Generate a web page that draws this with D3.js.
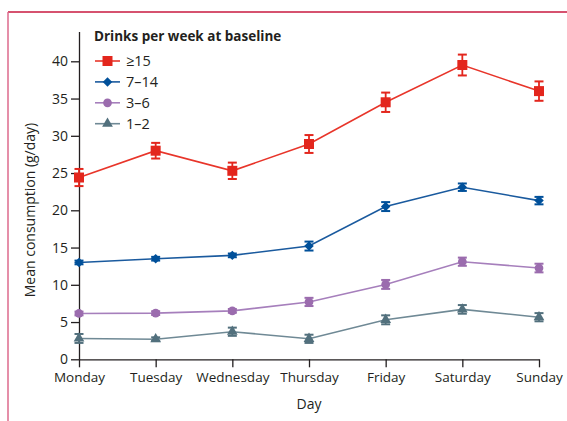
<!DOCTYPE html>
<html><head><meta charset="utf-8">
<script src="https://cdn.jsdelivr.net/npm/d3@7"></script>
<style>
html,body{margin:0;padding:0;background:#fff;}
svg text{font-family:"Open Sans","Noto Sans",sans-serif;fill:#231f20;}
</style></head>
<body><svg id="c" width="567" height="421"></svg>
<script>
const days = ["Monday","Tuesday","Wednesday","Thursday","Friday","Saturday","Sunday"];
const groups = ["≥15","7–14","3–6","1–2"];
const mean15 = [24.4, 28.0, 25.3, 28.9, 34.5, 39.5, 36.0];
const err15  = [1.15, 1.05, 1.1, 1.2, 1.3, 1.4, 1.3];
const mean7  = [13.0, 13.5, 13.95, 15.2, 20.5, 23.1, 21.3];
const err7   = [0.25, 0.25, 0.25, 0.6, 0.6, 0.5, 0.5];
const mean3  = [6.15, 6.2, 6.5, 7.7, 10.05, 13.1, 12.25];
const err3   = [0.25, 0.25, 0.25, 0.55, 0.6, 0.55, 0.58];
const mean1  = [2.8, 2.7, 3.7, 2.75, 5.3, 6.7, 5.65];
const err1   = [0.6, 0.25, 0.55, 0.55, 0.6, 0.58, 0.55];
const yTicks = [0,5,10,15,20,25,30,35,40];

const series = [
  {name:groups[0], mean:mean15, err:err15, line:"#e8352a", fill:"#e3261d", shape:"square"},
  {name:groups[1], mean:mean7,  err:err7,  line:"#1a5a9e", fill:"#00509a", shape:"diamond"},
  {name:groups[2], mean:mean3,  err:err3,  line:"#a67fbc", fill:"#9b6cae", shape:"circle"},
  {name:groups[3], mean:mean1,  err:err1,  line:"#6f8995", fill:"#52707d", shape:"triangle"}
];

const svg = d3.select("#c");
// frame
svg.append("line").attr("x1",8).attr("x2",567).attr("y1",12).attr("y2",12)
  .attr("stroke","#c8193f").attr("stroke-width",1.5);
svg.append("line").attr("x1",8).attr("x2",8).attr("y1",12).attr("y2",421)
  .attr("stroke","#dc6a8c").attr("stroke-width",1.5);

const x = d3.scalePoint().domain(days).range([79,539]);
const y = d3.scaleLinear().domain([0,44]).range([359.3,31.5]);

// axes
const yAxis = d3.axisLeft(y).tickValues(yTicks).tickSize(8).tickPadding(3).tickSizeOuter(0);
const gy = svg.append("g").attr("transform","translate(79,0)").call(yAxis);
gy.select(".domain").attr("stroke","#231f20").attr("stroke-width",1.3);
gy.selectAll(".tick line").attr("stroke","#231f20").attr("stroke-width",1.3);
gy.selectAll(".tick text").style("font-size","14px").attr("fill","#231f20");

const xAxis = d3.axisBottom(x).tickSize(8).tickPadding(5).tickSizeOuter(0);
const gx = svg.append("g").attr("transform","translate(0,359.3)").call(xAxis);
gx.select(".domain").attr("stroke","#231f20").attr("stroke-width",1.3);
gx.selectAll(".tick line").attr("stroke","#231f20").attr("stroke-width",1.3);
gx.selectAll(".tick text").style("font-size","13.5px").attr("fill","#231f20");

svg.append("text").attr("x",309).attr("y",409).attr("text-anchor","middle")
  .style("font-size","14px").text("Day");
svg.append("text").attr("transform","translate(35,210) rotate(-90)").attr("text-anchor","middle")
  .style("font-size","14px").text("Mean consumption (g/day)");

const sym = {
  square: d3.symbol().type(d3.symbolSquare).size(100),
  diamond: d3.symbol().type(d3.symbolSquare).size(45),
  circle: d3.symbol().type(d3.symbolCircle).size(60),
  triangle: d3.symbol().type(d3.symbolTriangle).size(50)
};
const rot = {square:0, diamond:45, circle:0, triangle:0};

const line = d3.line().x((d,i)=>x(days[i])).y(d=>y(d));
// draw bottom series first
[...series].reverse().forEach(s=>{
  const g = svg.append("g");
  g.append("path").attr("d",line(s.mean)).attr("fill","none")
    .attr("stroke",s.line).attr("stroke-width",1.6);
  s.mean.forEach((m,i)=>{
    const cx = x(days[i]);
    const y1 = y(m+s.err[i]), y2 = y(m-s.err[i]);
    g.append("line").attr("x1",cx).attr("x2",cx).attr("y1",y1).attr("y2",y2)
      .attr("stroke",s.fill).attr("stroke-width",1.8);
    [y1,y2].forEach(yy=>g.append("line").attr("x1",cx-4.5).attr("x2",cx+4.5)
      .attr("y1",yy).attr("y2",yy).attr("stroke",s.fill).attr("stroke-width",2));
    g.append("path").attr("d",sym[s.shape]())
      .attr("transform",`translate(${cx},${y(m)}) rotate(${rot[s.shape]})`)
      .attr("fill",s.fill);
  });
});

// legend
svg.append("text").attr("x",94).attr("y",41).style("font-size","13.5px").style("font-weight","bold")
  .text("Drinks per week at baseline");
series.forEach((s,i)=>{
  const ly = 61 + i*20.9;
  svg.append("line").attr("x1",95).attr("x2",120).attr("y1",ly).attr("y2",ly)
    .attr("stroke",s.line).attr("stroke-width",1.6);
  svg.append("path").attr("d",sym[s.shape]())
    .attr("transform",`translate(107.5,${ly}) rotate(${rot[s.shape]})`)
    .attr("fill",s.fill);
  svg.append("text").attr("x",126).attr("y",ly+5).style("font-size","14.5px").text(s.name);
});
</script></body></html>
